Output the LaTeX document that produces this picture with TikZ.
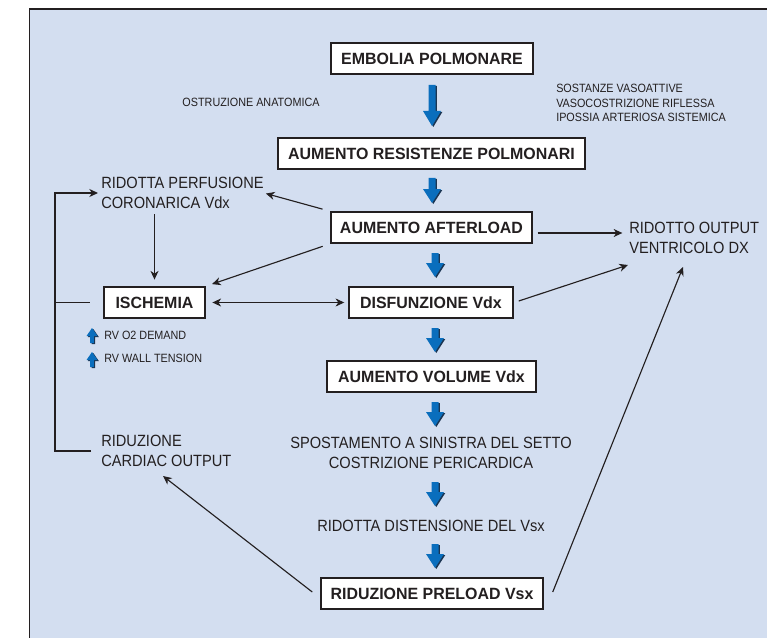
\documentclass[tikz,border=0pt]{standalone}
\usepackage{fontspec}
\setmainfont{Liberation Sans}[FakeStretch=0.9]
\newfontfamily\bxfont{Liberation Sans}[FakeStretch=0.98]
\usetikzlibrary{arrows.meta,calc}
\definecolor{panelbg}{HTML}{D3DEF0}
\definecolor{arrblue}{HTML}{0A6EBD}
\definecolor{arrshadow}{HTML}{1B3552}
\definecolor{ink}{HTML}{231F20}
% fat arrow: x, y tail, y tip, half shaft, half head, y head base
\newcommand\fatarr[6]{%
  \fill[arrshadow] (#1-#4+1.3,#2+1) -- (#1+#4+1.3,#2+1) -- (#1+#4+1.3,#6+1) -- (#1+#5+1.3,#6+1) -- (#1+1.3,#3+1) -- (#1-#5+1.3,#6+1) -- (#1-#4+1.3,#6+1) -- cycle;
  \fill[arrblue] (#1-#4,#2) -- (#1+#4,#2) -- (#1+#4,#6) -- (#1+#5,#6) -- (#1,#3) -- (#1-#5,#6) -- (#1-#4,#6) -- cycle;}
\tikzset{
  box/.style={draw=ink, fill=white, line width=1.1pt, font=\bxfont\bfseries\fontsize{12.2}{14}\selectfont, text=ink, minimum height=23.25pt, inner sep=0pt},
  wpx/.style={minimum width=#1*0.75pt},
  lbl/.style={font=\fontsize{12.2}{15}\selectfont, text=ink, inner sep=0pt, align=left},
  smalltxt/.style={font=\fontsize{9}{10.9}\selectfont, text=ink, inner sep=0pt, align=left},
  conn/.style={draw=ink, line width=0.85pt, -{Stealth[length=6.5pt,width=6pt,inset=2pt]}},
  dconn/.style={draw=ink, line width=0.85pt, {Stealth[length=6.5pt,width=6pt,inset=2pt]}-{Stealth[length=6.5pt,width=6pt,inset=2pt]}},
  bracket/.style={draw=ink, line width=0.9pt},
}
\begin{document}
\begin{tikzpicture}[x=0.75pt,y=-0.75pt]
\useasboundingbox (0,0) rectangle (767,638);
\fill[white] (0,0) rectangle (767,638);
\fill[panelbg] (29.5,9) rectangle (767,638);
\draw[ink, line width=1.1pt] (29.5,638) -- (29.5,9) -- (767,9);

% boxes
\node[box, wpx=202] (emb) at (432,58.5) {EMBOLIA POLMONARE};
\node[box, wpx=307] (res) at (431.5,153.5) {AUMENTO RESISTENZE POLMONARI};
\node[box, wpx=201] (aft) at (431.5,227.5) {AUMENTO AFTERLOAD};
\node[box, wpx=164] (dis) at (431,302.5) {DISFUNZIONE Vdx};
\node[box, wpx=209] (vol) at (431.5,376.5) {AUMENTO VOLUME Vdx};
\node[box, wpx=222] (pre) at (432,593.5) {RIDUZIONE PRELOAD Vsx};
\node[box, wpx=101] (isc) at (154.5,302.5) {ISCHEMIA};

% texts
\node[smalltxt] (ostr) at (251,102) {OSTRUZIONE ANATOMICA};
\node[smalltxt, anchor=west] (sost) at (556,103) {SOSTANZE VASOATTIVE\\VASOCOSTRIZIONE RIFLESSA\\IPOSSIA ARTERIOSA SISTEMICA};
\node[lbl, anchor=west] (rp) at (101,193) {RIDOTTA PERFUSIONE\\CORONARICA Vdx};
\node[lbl, anchor=west] (rc) at (101,451) {RIDUZIONE\\CARDIAC OUTPUT};
\node[lbl, anchor=west] (ro) at (629,238) {RIDOTTO OUTPUT\\VENTRICOLO DX};
\node[lbl, align=center] (sp) at (431,453) {SPOSTAMENTO A SINISTRA DEL SETTO\\COSTRIZIONE PERICARDICA};
\node[lbl] (rd) at (431,526) {RIDOTTA DISTENSIONE DEL Vsx};
\node[smalltxt, anchor=west] (rv1) at (104,335) {RV O2 DEMAND};
\node[smalltxt, anchor=west] (rv2) at (104,358) {RV WALL TENSION};

% blue arrows
\fatarr{432}{85}{126}{3.5}{9}{111}
\fatarr{432}{178}{203}{3.5}{9}{189}
\fatarr{435}{253}{277}{3.5}{9}{263}
\fatarr{435}{328}{352}{3.5}{9}{338}
\fatarr{435}{402}{426}{3.5}{9}{412}
\fatarr{435}{482}{506}{3.5}{9}{492}
\fatarr{435}{544}{568}{3.5}{9}{554}
\fatarr{92}{343}{328}{1.8}{5.5}{336}
\fatarr{92}{367}{352}{1.8}{5.5}{360}

% connectors
\draw[conn, shorten <=6pt, shorten >=1.5pt] (aft.north west) -- (rp.east);
\draw[conn, shorten <=4pt, shorten >=5pt] (isc.north |- rp.south) -- (isc.north);
\draw[conn, shorten <=6pt, shorten >=5pt] (aft.south west) -- (isc.north east);
\draw[dconn, shorten <=5pt, shorten >=3pt] (isc.east) -- (dis.west);
\coordinate (a1) at ($(aft.east)+(5,5.5)$);
\draw[conn, shorten >=5pt] (a1) -- (a1 -| ro.west);
\draw[conn] ($(dis.east)+(5,-1.5)$) -- ($(ro.west)+(-1,27)$);
\draw[conn] ($(pre.east)+(9,-1.5)$) -- ($(ro.west)+(54,29)$);
\draw[conn] ($(pre.west)+(-8,-1.5)$) -- ($(rc.west)+(62,25)$);

% left feedback bracket
\coordinate (lb) at (55,0);
\draw[bracket, -{Stealth[length=6.5pt,width=6pt,inset=2pt]}] ($(rc.west)+(-10,0)$) -- (rc.west -| lb) -- (rp.west -| lb) -- ($(rp.west)+(-3,0)$);
\draw[bracket] (isc.west -| lb) -- ($(isc.west)+(-13,0)$);
\end{tikzpicture}
\end{document}
